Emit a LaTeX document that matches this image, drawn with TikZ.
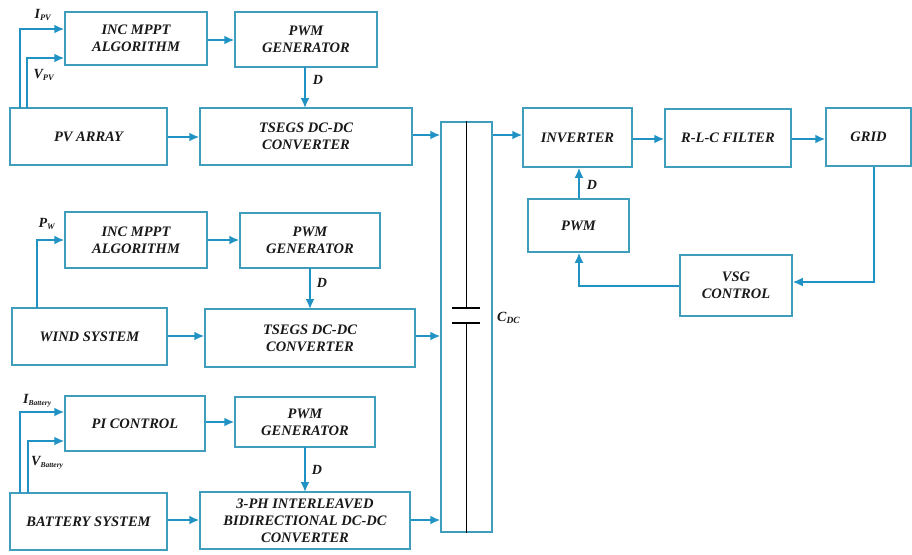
\documentclass[tikz,border=0pt]{standalone}
\usepackage{fontspec}
\setmainfont{Liberation Serif}
\usetikzlibrary{arrows.meta}
\definecolor{boxc}{RGB}{62,158,188}
\definecolor{arrc}{RGB}{32,146,196}
\definecolor{txtc}{RGB}{25,25,25}
\tikzset{
  blk/.style={draw=boxc, line width=1.5pt, inner sep=0pt, align=center, text=txtc,
     font=\bfseries\itshape\fontsize{14.5}{17}\selectfont},
  conn/.style={draw=arrc, line width=1.8pt, -{Latex[length=10pt,width=9pt]}},
  lbl/.style={text=txtc, font=\bfseries\itshape\fontsize{14}{15}\selectfont, inner sep=0pt},
  capl/.style={draw=black, line width=1.2pt}
}
\begin{document}
\begin{tikzpicture}[x=1pt,y=-1pt]
\useasboundingbox (0,0) rectangle (912,554);
% PV branch
\node[blk, minimum width=142pt, minimum height=53pt] (inc1) at (136,38.5) {INC MPPT\\ALGORITHM};
\node[blk, minimum width=142pt, minimum height=55pt] (pwm1) at (306,39.5) {PWM\\GENERATOR};
\node[blk, minimum width=157pt, minimum height=57pt] (pv) at (88.5,136.5) {PV ARRAY};
\node[blk, minimum width=212pt, minimum height=57pt] (ts1) at (306,136.5) {TSEGS DC-DC\\CONVERTER};
% Wind branch
\node[blk, minimum width=142pt, minimum height=56pt] (inc2) at (136,240) {INC MPPT\\ALGORITHM};
\node[blk, minimum width=140pt, minimum height=55pt] (pwm2) at (310,240.5) {PWM\\GENERATOR};
\node[blk, minimum width=155pt, minimum height=57pt] (wind) at (89.5,336.5) {WIND SYSTEM};
\node[blk, minimum width=210pt, minimum height=58pt] (ts2) at (310,338) {TSEGS DC-DC\\CONVERTER};
% Battery branch
\node[blk, minimum width=140pt, minimum height=55pt] (pi) at (135,423.5) {PI CONTROL};
\node[blk, minimum width=140pt, minimum height=50pt] (pwm3) at (305,422) {PWM\\GENERATOR};
\node[blk, minimum width=157pt, minimum height=57pt] (bat) at (88.5,521.5) {BATTERY SYSTEM};
\node[blk, minimum width=210pt, minimum height=57pt] (ph3) at (305,520.5) {3-PH INTERLEAVED\\BIDIRECTIONAL DC-DC\\CONVERTER};
% DC link
\node[blk, minimum width=51pt, minimum height=410pt] (cap) at (466.5,327) {};
\draw[capl] (cap.north) -- (466.5,308);
\draw[capl] (466.5,323) -- (cap.south);
\draw[capl] (452,308) -- (480,308);
\draw[capl] (452,323) -- (480,323);
\node[lbl, anchor=west] (cdc) at (497,318) {C\textsubscript{\fontsize{9.5}{9.5}\selectfont DC}};
% Grid side
\node[blk, minimum width=109pt, minimum height=59pt] (inv) at (577.5,137.5) {INVERTER};
\node[blk, minimum width=126pt, minimum height=58pt] (rlc) at (728,138) {R-L-C FILTER};
\node[blk, minimum width=85pt, minimum height=58pt] (grid) at (868.5,137) {GRID};
\node[blk, minimum width=101pt, minimum height=53pt] (pwm) at (578.5,225.5) {PWM};
\node[blk, minimum width=112pt, minimum height=61pt] (vsg) at (736,285.5) {VSG\\CONTROL};
% PV connectors
\coordinate (ipv0) at (20,108);
\coordinate (ipv1) at (20,29);
\coordinate (vpv0) at (27,108);
\coordinate (vpv1) at (27,58);
\draw[conn] (ipv0) -- (ipv1) -- (ipv1 -| inc1.west);
\draw[conn] (vpv0) -- (vpv1) -- (vpv1 -| inc1.west);
\node[lbl] (ipvl) at (43,15) {I\textsubscript{\fontsize{8.5}{8.5}\selectfont PV}};
\node[lbl] (vpvl) at (44,75) {V\textsubscript{\fontsize{8.5}{8.5}\selectfont PV}};
\draw[conn] (inc1.east |- 0,40) -- (pwm1.west |- 0,40);
\draw[conn] (305,67) -- (305,108);
\node[lbl] (d1) at (318,80) {D};
\draw[conn] (pv.east |- 0,137) -- (ts1.west |- 0,137);
\draw[conn] (ts1.east |- 0,135) -- (cap.west |- 0,135);
% Wind connectors
\coordinate (pw0) at (37,308);
\coordinate (pw1) at (37,240);
\draw[conn] (pw0) -- (pw1) -- (pw1 -| inc2.west);
\node[lbl] (pwl) at (47,224) {P\textsubscript{\fontsize{8.5}{8.5}\selectfont W}};
\draw[conn] (inc2.east |- 0,240) -- (pwm2.west |- 0,240);
\draw[conn] (310,268) -- (310,309);
\node[lbl] (d2) at (322,283) {D};
\draw[conn] (wind.east |- 0,336) -- (ts2.west |- 0,336);
\draw[conn] (ts2.east |- 0,336) -- (cap.west |- 0,336);
% Battery connectors
\coordinate (ib0) at (20,493);
\coordinate (ib1) at (20,412);
\coordinate (vb0) at (28,493);
\coordinate (vb1) at (28,441);
\draw[conn] (ib0) -- (ib1) -- (ib1 -| pi.west);
\draw[conn] (vb0) -- (vb1) -- (vb1 -| pi.west);
\node[lbl, anchor=west] (ibl) at (23,401) {I\textsubscript{\fontsize{7.5}{7.5}\selectfont Battery}};
\node[lbl, anchor=west] (vbl) at (31,463) {V\textsubscript{\fontsize{7.5}{7.5}\selectfont Battery}};
\draw[conn] (pi.east |- 0,422) -- (pwm3.west |- 0,422);
\draw[conn] (305,447) -- (305,492);
\node[lbl] (d3) at (317,470) {D};
\draw[conn] (bat.east |- 0,520) -- (ph3.west |- 0,520);
\draw[conn] (ph3.east |- 0,520) -- (cap.west |- 0,520);
% Grid side connectors
\draw[conn] (cap.east |- 0,135) -- (inv.west |- 0,135);
\draw[conn] (inv.east |- 0,139) -- (rlc.west |- 0,139);
\draw[conn] (rlc.east |- 0,139) -- (grid.west |- 0,139);
\coordinate (gv) at (874,282);
\draw[conn] (grid.south -| gv) -- (gv) -- (gv -| vsg.east);
\coordinate (vp) at (579,286);
\draw[conn] (vsg.west |- vp) -- (vp) -- (vp |- pwm.south);
\draw[conn] (pwm.north -| 579,0) -- (inv.south -| 579,0);
\node[lbl] (d4) at (592,185) {D};
\end{tikzpicture}
\end{document}
